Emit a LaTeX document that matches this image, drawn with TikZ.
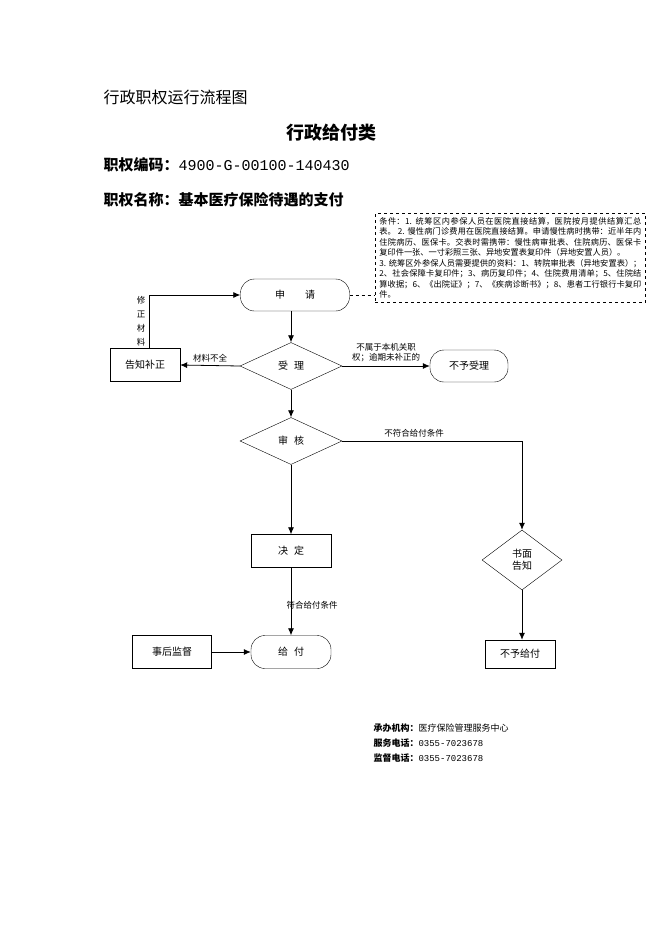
\documentclass[tikz,border=0pt]{standalone}
\usepackage{fontspec}
\setmainfont{Liberation Serif}
\newfontfamily\cjk{Noto Sans CJK SC}
\newfontfamily\cjkmono{Liberation Mono}
\XeTeXlinebreaklocale "zh"
\XeTeXlinebreakskip=0pt plus 1pt
\usetikzlibrary{shapes.geometric,arrows.meta}
\tikzset{
  box/.style={draw,minimum width=#1,minimum height=33pt,font=\cjk\fontsize{10}{12}\selectfont},
  box/.default=70pt,
  term/.style={draw,rounded corners=14pt,minimum height=32pt,font=\cjk\fontsize{10}{12}\selectfont},
  dec/.style={draw,diamond,aspect=2.1,inner sep=1pt,font=\cjk\fontsize{10}{12}\selectfont},
  lab/.style={font=\cjk\fontsize{8.5}{10}\selectfont},
  arr/.style={-{Latex[length=7pt,width=6pt]},thick}
}
\begin{document}
\begin{tikzpicture}[x=1pt,y=-1pt]
\useasboundingbox (0,0) rectangle (662,936);
% headings
\node[anchor=west,font=\cjk\fontsize{16}{18}\selectfont] (title) at (100,97) {行政职权运行流程图};
\node[font=\cjk\bfseries\fontsize{18}{20}\selectfont] (kind) at (331,133) {行政给付类};
\node[anchor=west,font=\cjk\bfseries\fontsize{15}{18}\selectfont] (code) at (100,165) {职权编码：{\cjkmono\mdseries 4900-G-00100-140430}};
\node[anchor=west,font=\cjk\bfseries\fontsize{15}{18}\selectfont] (name) at (100,200) {职权名称：基本医疗保险待遇的支付};
% conditions
\node[draw,dashed,thick,anchor=north west,text width=262pt,inner sep=4pt,align=justify,
  font=\cjk\fontsize{8.2}{10.5}\selectfont] (cond) at (375,213)
  {条件：1. 统筹区内参保人员在医院直接结算，医院按月提供结算汇总表。 2. 慢性病门诊费用在医院直接结算。申请慢性病时携带：近半年内住院病历、医保卡。交表时需携带：慢性病审批表、住院病历、医保卡复印件一张、一寸彩照三张、异地安置表复印件（异地安置人员）。\\3. 统筹区外参保人员需要提供的资料：1、转院审批表（异地安置表）；2、社会保障卡复印件；3、病历复印件；4、住院费用清单；5、住院结算收据；6、《出院证》；7、《疾病诊断书》；8、患者工行银行卡复印件。};
% flow
\node[term,minimum width=109pt] (apply) at (295,295) {申\hspace{2em}请};
\node[dec,minimum width=102pt,minimum height=47pt] (accept) at (291,366) {受\hspace{0.6em}理};
\node[box] (notify) at (145,365) {告知补正};
\node[term,minimum width=78pt] (reject) at (469,366) {不予受理};
\node[dec,minimum width=102pt,minimum height=47pt] (review) at (291,441) {审\hspace{0.6em}核};
\node[box=80pt] (decide) at (291,551) {决\hspace{0.6em}定};
\node[dec,minimum width=80pt,minimum height=60pt,align=center] (written) at (522,560) {书面\\告知};
\node[box,minimum height=28pt] (nopay) at (520,654) {不予给付};
\node[term,minimum width=80pt,minimum height=33pt] (pay) at (291,652) {给\hspace{0.6em}付};
\node[box=79pt] (monitor) at (172,652) {事后监督};
\coordinate (fixup) at (149,295);
\coordinate (revturn) at (522,441);
% connectors
\draw[dashed,thick] (apply.east) -- (cond.west |- apply.east);
\draw[arr] (apply.south -| accept) -- (accept);
\draw[arr] (accept) -- (review);
\draw[arr] (review) -- (decide);
\draw[arr] (decide) -- node[lab,right,pos=0.55,xshift=-8pt] {符合给付条件} (pay);
\draw[arr] (accept.west) -- node[lab,above] {材料不全} (notify.east);
\draw[arr] (notify.north -| fixup) -- node[lab,left,align=center,font=\cjk\fontsize{8.5}{14}\selectfont] {修\\正\\材\\料} (fixup) -- (apply.west);
\draw[arr] (accept.east) -- node[lab,above,align=center] {不属于本机关职\\权；逾期未补正的} (reject.west);
\draw[arr] (review.east) -- node[lab,above,pos=0.4] {不符合给付条件} (revturn) -- (written.north);
\draw[arr] (written.south) -- (written.south |- nopay.north);
\draw[arr] (monitor) -- (pay);
% footer
\node[anchor=north west,align=left,font=\cjk\fontsize{9}{15}\selectfont] (foot) at (370,720)
  {\textbf{承办机构：}医疗保险管理服务中心\\\textbf{服务电话：}{\cjkmono 0355-7023678}\\\textbf{监督电话：}{\cjkmono 0355-7023678}};
\end{tikzpicture}
\end{document}
